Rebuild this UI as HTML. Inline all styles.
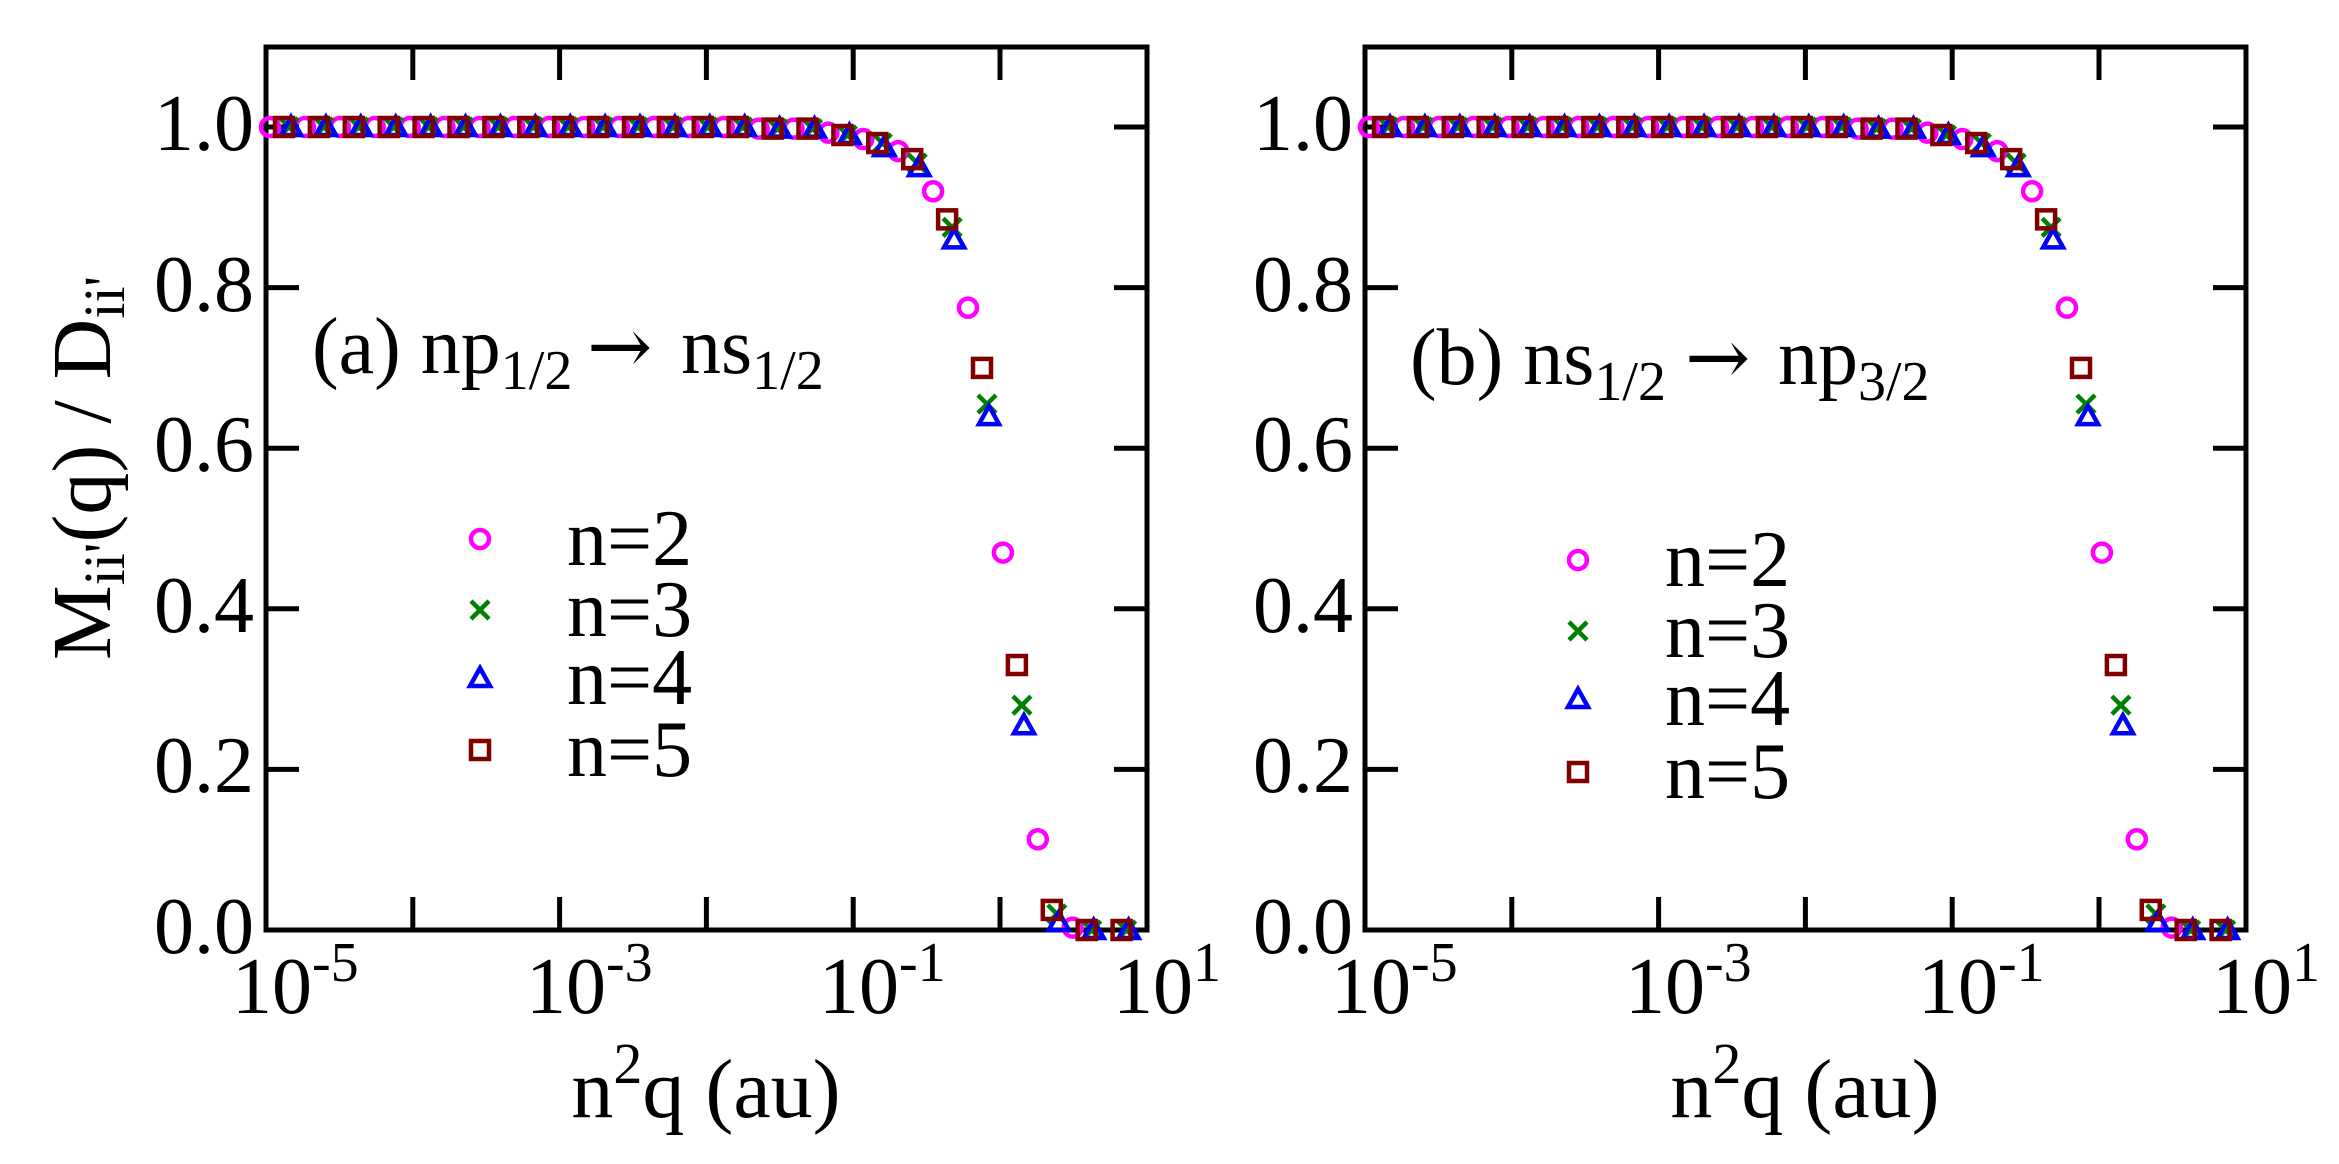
<!DOCTYPE html>
<html><head><meta charset="utf-8"><style>
html,body{margin:0;padding:0;background:#fff;}
svg{display:block;}
text{font-family:"Liberation Serif","DejaVu Serif",serif;fill:#000;}
</style></head><body>
<svg id="s" width="2339" height="1164" viewBox="0 0 2339 1164" xmlns="http://www.w3.org/2000/svg" font-family="Liberation Serif, serif">
<g>
 <text x="312" y="373" font-size="80">(a) np<tspan font-size="56" dy="16">1/2</tspan><tspan x="587" dy="-16" style="font-family:'DejaVu Serif',serif" font-size="78">→</tspan><tspan x="681">ns</tspan><tspan font-size="56" dy="16">1/2</tspan></text>
 <text x="567" y="565" font-size="80">n=2</text>
 <text x="567" y="636" font-size="80">n=3</text>
 <text x="567" y="704" font-size="80">n=4</text>
 <text x="567" y="776" font-size="80">n=5</text>
 <text transform="translate(110,468) rotate(-90)" text-anchor="middle" font-size="84">M<tspan font-size="58" dy="14">ii'</tspan><tspan dy="-14">(q) / D</tspan><tspan font-size="58" dy="14">ii'</tspan></text>
</g>
<g>
 <text x="1410" y="384" font-size="80">(b) ns<tspan font-size="56" dy="16">1/2</tspan><tspan x="1685" dy="-16" style="font-family:'DejaVu Serif',serif" font-size="78">→</tspan><tspan x="1778">np</tspan><tspan font-size="56" dy="16">3/2</tspan></text>
 <text x="1665" y="586" font-size="80">n=2</text>
 <text x="1665" y="657" font-size="80">n=3</text>
 <text x="1665" y="725" font-size="80">n=4</text>
 <text x="1665" y="798" font-size="80">n=5</text>
</g>
<g font-size="80">
 <text x="254" y="150" text-anchor="end">1.0</text>
 <text x="254" y="311" text-anchor="end">0.8</text>
 <text x="254" y="471" text-anchor="end">0.6</text>
 <text x="254" y="632" text-anchor="end">0.4</text>
 <text x="254" y="792" text-anchor="end">0.2</text>
 <text x="254" y="953" text-anchor="end">0.0</text>
 <text x="1353" y="150" text-anchor="end">1.0</text>
 <text x="1353" y="311" text-anchor="end">0.8</text>
 <text x="1353" y="471" text-anchor="end">0.6</text>
 <text x="1353" y="632" text-anchor="end">0.4</text>
 <text x="1353" y="792" text-anchor="end">0.2</text>
 <text x="1353" y="953" text-anchor="end">0.0</text>
 <text x="232" y="1013">10<tspan font-size="56" dy="-32">-5</tspan></text>
 <text x="526" y="1013">10<tspan font-size="56" dy="-32">-3</tspan></text>
 <text x="819" y="1013">10<tspan font-size="56" dy="-32">-1</tspan></text>
 <text x="1113" y="1013">10<tspan font-size="56" dy="-32">1</tspan></text>
 <text x="1331" y="1013">10<tspan font-size="56" dy="-32">-5</tspan></text>
 <text x="1625" y="1013">10<tspan font-size="56" dy="-32">-3</tspan></text>
 <text x="1918" y="1013">10<tspan font-size="56" dy="-32">-1</tspan></text>
 <text x="2212" y="1013">10<tspan font-size="56" dy="-32">1</tspan></text>
 <text x="706" y="1117" font-size="84" text-anchor="middle">n<tspan font-size="58" dy="-34">2</tspan><tspan dy="34">q (au)</tspan></text>
 <text x="1805" y="1117" font-size="84" text-anchor="middle">n<tspan font-size="58" dy="-34">2</tspan><tspan dy="34">q (au)</tspan></text>
</g>
<g id="g"></g>
</svg>
<script>
var G=document.getElementById('g'),h='';
function Y(v){return 930-803*v;}
var cir=[.993,.985,.97,.92,.775,.47,.113,.003],
sq=[.99,.98,.96,.885,.70,.33,.025,0,0],
cr=[.99,.98,.955,.875,.655,.28,.02,0,0],
tr=[.99,.975,.95,.86,.64,.255,.01,0,0];
function val(arr,k){return k<16?(k>=14?0.998:1):arr[k-16];}
function C(x,y){return '<circle cx="'+x+'" cy="'+y+'" r="9" fill="none" stroke="#f0f" stroke-width="4.5"/>';}
function X(x,y){return '<path d="M'+(x-9)+' '+(y-9)+'L'+(x+9)+' '+(y+9)+'M'+(x+9)+' '+(y-9)+'L'+(x-9)+' '+(y+9)+'" stroke="#008000" stroke-width="4.5"/>';}
function T(x,y){return '<path d="M'+x+' '+(y-10)+'L'+(x+10)+' '+(y+8)+'L'+(x-10)+' '+(y+8)+'Z" fill="none" stroke="#00f" stroke-width="4.5"/>';}
function S(x,y){return '<rect x="'+(x-9)+'" y="'+(y-9)+'" width="18" height="18" fill="none" stroke="#800000" stroke-width="4.5"/>';}
[0,1099].forEach(function(dx){
 var L=266+dx,R=1147+dx,Tp=47,B=930;
 h+='<rect x="'+L+'" y="'+Tp+'" width="'+(R-L)+'" height="'+(B-Tp)+'" fill="none" stroke="#000" stroke-width="5"/>';
 for(var i=0;i<=5;i++){var y=Y(i*0.2);h+='<line x1="'+L+'" y1="'+y+'" x2="'+(L+33)+'" y2="'+y+'" stroke="#000" stroke-width="5"/><line x1="'+R+'" y1="'+y+'" x2="'+(R-33)+'" y2="'+y+'" stroke="#000" stroke-width="5"/>';}
 for(var d=1;d<6;d++){var x=L+146.8*d;h+='<line x1="'+x+'" y1="'+B+'" x2="'+x+'" y2="'+(B-33)+'" stroke="#000" stroke-width="5"/><line x1="'+x+'" y1="'+Tp+'" x2="'+x+'" y2="'+(Tp+33)+'" stroke="#000" stroke-width="5"/>';}
 var k;
 for(k=0;k<=23;k++)h+=C(270+dx+34.9*k,Y(val(cir,k)));
 for(k=0;k<=24;k++)h+=X(289+dx+34.9*k,Y(val(cr,k)));
 for(k=0;k<=24;k++)h+=T(291+dx+34.9*k,Y(val(tr,k)));
 for(k=0;k<=24;k++)h+=S(284+dx+34.9*k,Y(val(sq,k)));
});
var lg=[[480,539,1578,560],[480,610,1578,631],[480,678,1578,699],[480,750,1578,772]];
var F=[C,X,T,S];
lg.forEach(function(r,i){h+=F[i](r[0],r[1])+F[i](r[2],r[3]);});
G.innerHTML=h;
</script>
</body></html>
